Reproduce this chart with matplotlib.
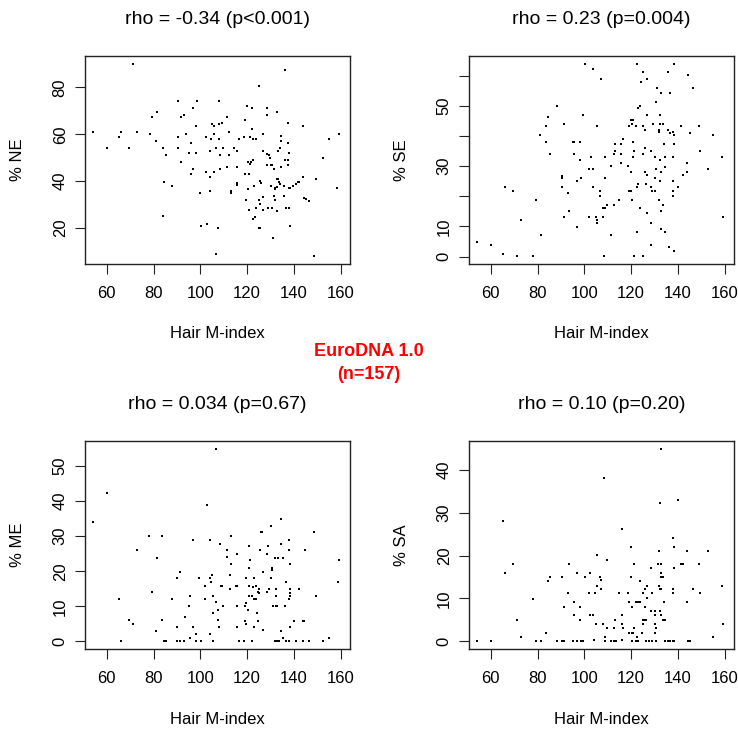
import matplotlib
matplotlib.use("Agg")
import matplotlib.pyplot as plt

W, H = 738, 731
plt.rcParams['font.family'] = ['Liberation Sans', 'DejaVu Sans']

# % NE vs hair M-index
ne_hair = [71.1, 90.4, 98.7, 108.0, 97.0, 93.1, 91.6, 81.6, 79.4, 98.1,
           105.1, 105.7, 107.9, 54.1, 66.3, 65.1, 72.9, 78.3, 90.4, 93.7,
           102.4, 105.7, 104.7, 81.0, 95.9, 60.1, 69.6, 83.9, 90.4, 106.9,
           104.1, 85.4, 95.3, 98.1, 91.6, 97.0, 95.9, 102.4, 105.7, 104.1,
           84.3, 88.1, 99.7, 104.1, 83.9, 100.3, 103.0, 107.4, 106.9,
           108.1, 109.1, 111.3, 112.4, 108.6, 112.4, 109.6, 108.6, 111.4, 136.0,
           125.1, 120.1, 122.3, 128.4, 128.4, 132.9, 119.0, 137.7, 143.7, 122.3,
           126.9, 134.4, 134.4, 118.6, 121.3, 122.6, 123.6, 116.4, 137.7, 159.3,
           154.9, 126.9, 128.4, 129.4, 129.9, 133.3, 134.0, 138.1, 136.1, 137.7,
           137.7, 152.6, 114.6, 115.6, 120.4, 121.1, 121.8, 122.6, 128.4, 130.1,
           130.7, 131.7, 134.4, 115.7, 118.9, 120.7, 125.4, 126.1, 132.7, 133.4,
           130.4, 131.9, 132.1, 132.7, 133.6, 133.9, 135.7, 137.9, 138.4, 139.6,
           140.7, 141.7, 142.1, 143.7, 149.3, 158.6, 115.9, 115.9, 113.1, 113.1,
           120.3, 123.1, 126.9, 125.0, 125.7, 119.6, 131.7, 131.9, 135.6, 144.4,
           145.3, 146.4, 123.9, 126.9, 129.1, 130.7, 120.7, 132.9, 136.7, 138.1,
           122.6, 123.4, 125.0, 125.7, 138.3, 131.1, 148.7]
ne_pct = [90.1, 74.3, 74.3, 74.3, 71.1, 68.3, 67.4, 69.4, 67.3, 63.6,
          64.6, 63.6, 64.4, 61.1, 61.1, 59.0, 61.1, 60.0, 59.0, 60.0,
          59.0, 60.0, 57.9, 57.3, 56.3, 54.0, 54.0, 54.0, 54.0, 54.0,
          52.9, 51.3, 51.9, 51.9, 48.0, 45.3, 43.1, 44.1, 44.1, 42.0,
          39.7, 38.1, 34.9, 36.0, 25.0, 21.1, 21.7, 20.0, 9.0,
          57.9, 65.0, 67.3, 61.1, 51.3, 51.3, 54.0, 45.3, 45.9, 87.6,
          80.4, 72.1, 71.1, 71.1, 68.3, 69.4, 66.1, 65.0, 63.4, 62.3,
          60.0, 59.1, 57.3, 59.0, 59.0, 57.9, 57.9, 57.9, 56.1, 60.0,
          57.9, 52.9, 51.4, 51.1, 50.1, 52.9, 54.0, 51.9, 49.0, 49.0,
          46.9, 50.1, 54.0, 52.9, 48.0, 47.3, 48.3, 49.0, 46.9, 46.9,
          46.9, 45.4, 45.9, 45.9, 43.1, 43.1, 40.3, 39.3, 40.9, 40.9,
          38.1, 37.1, 36.6, 37.7, 39.7, 38.9, 37.9, 37.1, 37.1, 37.9,
          38.9, 39.6, 39.7, 42.0, 40.9, 37.0, 39.3, 38.3, 36.0, 35.0,
          36.9, 38.0, 33.1, 32.1, 30.1, 32.1, 33.6, 32.1, 33.7, 32.9,
          32.3, 31.7, 28.7, 27.6, 28.7, 28.7, 27.7, 27.1, 28.7, 28.7,
          23.9, 24.9, 20.0, 20.0, 21.0, 15.6, 8.0]

# % SE vs hair M-index
se_hair = [54.2, 60.3, 65.3, 71.2, 78.2, 66.3, 69.5, 72.8, 79.3, 81.6,
           88.2, 84.3, 83.6, 81.1, 83.8, 85.3, 91.3, 90.3, 90.3, 90.3,
           93.0, 93.6, 91.3, 96.8, 95.1, 95.8, 98.0, 95.8, 98.0, 96.8,
           98.5, 99.5,
           100.1, 103.9, 107.2, 122.6, 138.2, 125.3, 135.6, 144.5, 126.8, 124.3,
           146.6, 131.2, 132.9, 136.8, 130.7, 123.7, 123.1, 126.8, 132.4, 120.0,
           121.0, 119.3, 120.4, 122.1, 125.3, 125.8, 129.3, 132.4, 133.5, 131.8,
           131.8, 135.6, 136.8, 137.8, 138.5, 141.2, 148.9, 145.0, 154.9, 105.6,
           116.4, 113.1, 115.8, 120.9, 133.9, 138.5, 112.7, 113.3, 115.9, 121.4,
           125.0, 125.8, 128.5, 102.8, 109.0, 121.0, 130.2, 132.4, 134.6, 137.8,
           149.3, 158.7, 102.2, 103.9, 111.6, 115.9, 118.7, 119.9, 125.8, 127.0,
           130.7, 133.0, 134.7, 143.9, 143.9, 142.2, 152.7, 108.9, 130.2, 132.4,
           130.1, 129.0, 128.5, 137.9, 122.6, 123.1, 126.4, 103.9, 106.6, 106.6,
           114.9, 119.2, 119.9, 120.4, 131.8, 137.8, 137.8, 140.0, 112.7, 109.9,
           108.9, 107.8, 123.7, 127.0, 133.0, 133.5, 102.2, 105.0, 105.5, 105.5,
           107.8, 128.5, 133.0, 134.5, 122.6, 111.6, 128.5, 136.2, 138.2, 108.3,
           121.4, 125.3, 159.3]
se_pct = [4.9, 4.0, 1.0, 0.1, 0.1, 23.1, 21.9, 12.1, 18.8, 7.0,
          49.9, 46.2, 43.2, 40.2, 38.0, 34.2, 44.0, 26.8, 26.1, 23.1,
          21.0, 15.1, 13.0, 9.9, 38.0, 38.0, 38.0, 34.2, 32.0, 25.2,
          26.1, 47.0,
          64.0, 62.3, 58.9, 64.0, 64.0, 61.1, 61.1, 60.2, 58.9, 58.0,
          55.9, 55.9, 54.2, 54.2, 51.2, 49.9, 49.2, 47.0, 47.0, 45.3,
          45.3, 43.2, 44.0, 43.2, 43.2, 41.9, 44.0, 44.0, 44.0, 41.9,
          41.3, 41.9, 41.0, 41.2, 40.2, 43.2, 43.2, 41.0, 40.2, 43.2,
          38.9, 37.2, 37.2, 38.0, 37.2, 37.2, 34.2, 35.0, 34.2, 35.0,
          34.2, 35.9, 35.0, 32.9, 32.9, 32.9, 32.9, 32.0, 32.9, 32.9,
          35.0, 32.9, 29.1, 29.1, 29.9, 31.2, 29.9, 28.2, 28.2, 27.0,
          29.1, 28.2, 29.6, 31.2, 28.2, 27.0, 29.1, 26.1, 26.1, 25.2,
          21.9, 21.9, 23.1, 25.2, 23.1, 24.0, 24.0, 23.1, 21.9, 20.2,
          18.9, 21.9, 21.9, 18.9, 18.9, 21.9, 20.2, 23.1, 17.2, 17.2,
          16.0, 16.0, 16.0, 14.3, 15.0, 17.2, 13.0, 13.0, 12.1, 11.3,
          13.0, 11.3, 9.1, 8.3, 8.3, 7.0, 4.0, 3.2, 1.9, 0.2,
          0.2, 0.2, 13.0]

# % ME vs hair M-index
me_hair = [54.0, 60.1, 65.1, 66.1, 69.4, 71.1, 72.8, 78.2, 83.6, 81.5,
           79.2, 80.9, 83.6, 84.3, 85.5, 88.0, 90.2, 91.3, 90.2, 90.2,
           91.3, 93.0, 93.4, 95.1, 95.7, 95.7, 96.8, 96.8, 98.0, 98.0,
           100.1, 99.5, 102.2, 102.7, 102.2, 104.0, 104.0, 104.5, 105.1, 105.5,
           105.5, 104.0, 105.5,
           106.6, 106.6, 107.6, 107.6, 108.2, 108.8, 109.3, 109.9, 108.5, 113.2,
           111.6, 111.6, 113.2, 115.9, 112.6, 112.6, 115.3, 115.9, 115.9, 119.1,
           119.7, 120.3, 115.9, 119.6, 119.1, 116.4, 118.6, 122.0, 121.0, 121.4,
           120.9, 119.7, 123.0, 121.0, 122.6, 123.7, 121.0, 122.0, 123.0, 123.7,
           124.1, 123.0, 124.7, 124.7, 125.3, 125.3, 126.8, 125.8, 126.4, 125.7,
           128.5, 129.1, 126.8, 128.5, 129.5, 130.2, 130.7, 130.7, 130.1, 131.8,
           133.4, 135.5, 132.4, 132.4, 131.2, 132.4, 132.9, 134.5, 131.8, 132.9,
           133.5, 134.5, 134.5, 137.8, 137.8, 136.6, 138.2, 138.2, 138.5, 137.8,
           136.1, 138.5, 136.6, 137.8, 135.5, 138.4, 139.9, 143.7, 144.3, 141.0,
           143.8, 146.6, 142.2, 144.9, 148.7, 149.3, 152.6, 154.9, 159.3, 158.7]
me_pct = [34.2, 42.3, 12.1, 0.0, 6.0, 5.0, 26.1, 30.1, 30.1, 23.9,
          14.0, 3.0, 6.0, 0.0, 0.0, 12.1, 18.1, 19.8, 4.1, 0.0,
          0.0, 0.0, 7.0, 10.0, 13.0, 0.8, 4.1, 29.0, 2.0, 0.0,
          0.0, 18.1, 15.8, 38.9, 12.1, 29.0, 18.1, 16.9, 19.0, 12.9,
          8.2, 2.0, 0.0,
          55.0, 11.1, 9.0, 6.0, 4.1, 15.8, 15.8, 10.0, 27.9, 30.1,
          26.1, 24.0, 22.1, 25.0, 19.0, 15.0, 15.8, 15.8, 10.0, 10.0,
          10.8, 9.0, 4.1, 4.8, 5.8, 0.0, 0.0, 0.0, 27.2, 23.1,
          21.0, 18.1, 18.1, 15.8, 15.4, 15.8, 12.9, 12.9, 12.2, 12.2,
          8.1, 4.1, 5.9, 14.1, 15.0, 13.9, 3.1, 31.2, 31.2, 26.2,
          25.0, 27.2, 19.8, 14.1, 15.0, 33.0, 21.0, 20.3, 18.1, 23.9,
          23.9, 23.9, 15.0, 13.0, 10.0, 10.0, 10.0, 3.0, 0.0, 0.0,
          0.0, 34.9, 27.9, 29.0, 26.2, 16.9, 15.0, 13.9, 12.9, 12.2,
          10.0, 22.1, 0.0, 0.0, 0.8, 4.1, 5.9, 5.9, 5.9, 0.0,
          0.0, 0.0, 15.0, 26.2, 31.2, 12.9, 0.0, 0.8, 23.1, 16.9]

# % SA vs hair M-index
sa_hair = [54.2, 60.3, 65.3, 66.3, 69.5, 71.2, 72.8, 78.2, 79.3, 81.5,
           83.8, 84.3, 85.3, 88.2, 90.3, 90.3, 91.3, 91.3, 93.0, 93.6,
           95.7, 95.7, 97.0, 98.0, 98.0, 95.3, 97.0, 98.5, 99.5, 100.1,
           102.4, 102.2, 104.4, 102.6, 103.6, 104.1, 105.3, 106.6, 107.2, 105.5,
           107.2, 108.3, 109.9, 105.1, 107.8, 109.5, 108.9, 108.9, 111.4, 112.5,
           113.6, 112.7, 113.3, 115.0, 116.0, 116.0, 116.0, 116.6, 116.0, 118.7,
           119.9, 119.9, 119.3, 120.4, 119.3, 120.4, 121.0, 121.4, 121.4, 120.4,
           122.0, 123.1, 122.6, 122.0, 123.1, 123.7, 123.7, 124.7, 125.3, 125.8,
           126.4, 125.3, 125.3, 125.8, 125.8, 127.0, 127.0, 128.5, 126.4, 127.5,
           128.5, 130.2, 130.2, 132.4, 133.0, 130.2, 130.8, 130.2, 129.1, 130.8,
           129.1, 131.4, 133.0, 132.4, 133.0, 131.8, 133.0, 133.5, 133.0, 131.8,
           132.4, 133.0, 134.1, 133.5, 134.7, 134.7, 135.8, 136.8, 137.9, 138.5,
           137.9, 138.5, 138.5, 137.9, 137.9, 140.1, 141.2, 142.3, 143.9, 143.9,
           144.5, 145.0, 146.6, 149.3, 148.9, 152.7, 154.9, 158.7, 159.3]
sa_pct = [0.0, 0.0, 28.0, 16.0, 18.1, 5.0, 1.0, 9.9, 0.0, 0.0,
          1.9, 14.1, 15.0, 0.0, 15.0, 0.0, 0.0, 7.9, 11.3, 18.1,
          9.1, 6.2, 16.0, 7.9, 5.0, 0.0, 0.0, 0.0, 0.0, 15.0,
          16.0, 11.2, 11.2, 6.2, 6.2, 0.2, 20.2, 15.1, 14.3, 13.0,
          12.1, 38.1, 19.0, 4.0, 4.0, 3.2, 1.0, 0.0, 0.0, 0.0,
          0.0, 3.2, 5.0, 11.2, 26.2, 6.2, 4.0, 3.2, 0.2, 11.2,
          22.0, 15.1, 9.1, 8.1, 1.9, 1.9, 1.9, 3.2, 18.1, 0.0,
          0.0, 0.0, 1.0, 9.1, 9.1, 9.1, 14.1, 1.9, 5.0, 5.0,
          5.0, 4.0, 11.2, 12.1, 8.1, 13.0, 10.0, 17.2, 0.0, 0.0,
          7.1, 7.1, 6.2, 7.1, 6.2, 4.0, 3.2, 1.9, 0.0, 0.0,
          11.2, 18.1, 18.1, 32.2, 44.9, 21.0, 16.0, 15.1, 15.1, 13.0,
          12.1, 12.1, 9.1, 5.0, 5.0, 0.0, 0.0, 0.0, 0.0, 0.0,
          24.1, 22.0, 17.2, 12.1, 11.2, 33.0, 18.1, 18.1, 21.0, 9.1,
          0.0, 0.0, 12.1, 11.2, 18.1, 21.0, 1.0, 13.0, 4.0]

titles = ["rho = -0.34 (p<0.001)", "rho = 0.23 (p=0.004)",
          "rho = 0.034 (p=0.67)", "rho = 0.10 (p=0.20)"]
ylabels = ["% NE", "% SE", "% ME", "% SA"]
xticks = [60, 80, 100, 120, 140, 160]
yticks = [[20, 40, 60, 80], [0, 10, 20, 30, 40, 50, 60],
          [0, 10, 20, 30, 40, 50], [0, 10, 20, 30, 40]]
yticklabels = [["20", "40", "60", "80"], ["0", "10", "", "30", "", "50", ""],
               ["0", "10", "20", "30", "40", "50"], ["0", "10", "20", "30", "40"]]
xs = [ne_hair, se_hair, me_hair, sa_hair]
ys = [ne_pct, se_pct, me_pct, sa_pct]


def r_lim(v):
    lo, hi = min(v), max(v)
    pad = 0.04 * (hi - lo)
    return lo - pad, hi + pad


fig = plt.figure(figsize=(W / 100, H / 100), dpi=100)

# panel boxes in pixels: left, top
boxes = [(85, 56), (469, 56), (85, 441), (469, 441)]
bw, bh = 265, 208

for i in range(4):
    left, top = boxes[i]
    ax = fig.add_axes([left / W, 1 - (top + bh) / H, bw / W, bh / H])
    ax.plot(xs[i], ys[i], 's', ms=1.7, color='black', mew=0)
    ax.set_xlim(50.7, 164.0)
    ax.set_ylim(*r_lim(ys[i]))
    ax.set_xticks(xticks)
    ax.set_xticklabels([str(t) for t in xticks])
    ax.set_yticks(yticks[i])
    ax.set_yticklabels(yticklabels[i], rotation=90, va='center')
    ax.tick_params(direction='out', length=7.5, width=0.8, labelsize=12,
                   color='#222222')
    ax.tick_params(axis='x', pad=8)
    ax.tick_params(axis='y', pad=5)
    for sp in ax.spines.values():
        sp.set_linewidth(1.0)
        sp.set_color('#222222')

    cx = left + bw / 2
    fig.text(cx / W, 1 - (top - 37) / H, titles[i], ha='center', va='center',
             fontsize=14)
    fig.text(cx / W, 1 - (top + bh + 70) / H, "Hair M-index", ha='center',
             va='center', fontsize=12)
    fig.text((left - 67) / W, 1 - (top + bh / 2) / H, ylabels[i], ha='center',
             va='center', rotation=90, fontsize=12)

fig.text(369 / W, 1 - 352 / H, "EuroDNA 1.0", ha='center', va='center',
         color='red', fontsize=13, fontweight='bold')
fig.text(369 / W, 1 - 375 / H, "(n=157)", ha='center', va='center',
         color='red', fontsize=13, fontweight='bold')

fig.savefig("out.png", dpi=100)
